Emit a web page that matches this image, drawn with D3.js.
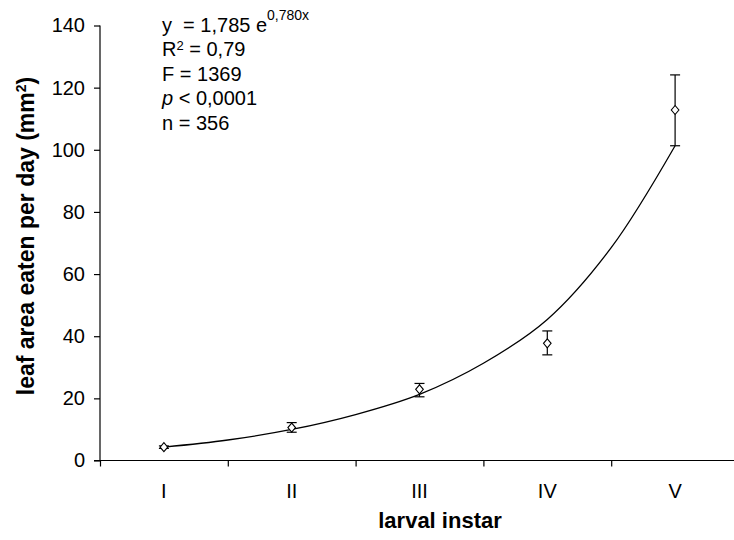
<!DOCTYPE html>
<html>
<head>
<meta charset="utf-8">
<script src="https://cdn.jsdelivr.net/npm/d3@7"></script>
<style>
  html, body { margin: 0; padding: 0; background: #fff; }
  svg { display: block; font-family: "Liberation Sans", Arial, sans-serif; }
  text { white-space: pre; }
</style>
</head>
<body>
<div id="chart"></div>
<script>
// ---- data ----
const instars = ["I", "II", "III", "IV", "V"];
const instarIndex = [1, 2, 3, 4, 5];
const means = [4.3, 10.6, 22.9, 37.7, 112.8];
const errLow = [3.9, 9.1, 20.5, 34.0, 101.3];
const errHigh = [4.7, 12.2, 24.8, 41.7, 124.1];
const trendX = [1, 1.5, 2, 2.5, 3, 3.5, 4, 4.5, 5];
const trendY = [4.3, 6.6, 10.0, 14.8, 21.3, 31.3, 45.4, 68.5, 101.3];
const yTicks = [0, 20, 40, 60, 80, 100, 120, 140];
const xBoundaries = [0.5, 1.5, 2.5, 3.5, 4.5, 5.5];

const W = 734, H = 540;
const svg = d3.select("#chart").append("svg").attr("width", W).attr("height", H);

const x = d3.scaleLinear().domain([0.5, 5.5]).range([100, 739]);
const y = d3.scaleLinear().domain([0, 140]).range([460.5, 25.5]);

// y axis
const yAxis = d3.axisLeft(y).tickValues(yTicks).tickSize(6).tickPadding(9).tickFormat(d3.format("d"));
const gy = svg.append("g").attr("transform", `translate(${x(0.5)},0)`).call(yAxis);
gy.select(".domain").attr("d", `M0,${y(140)}V${y(0)}`).attr("stroke", "#000").attr("stroke-width", 1.2);
gy.selectAll(".tick line").attr("stroke", "#000").attr("stroke-width", 1.2);
gy.selectAll(".tick text").attr("font-size", 20).attr("font-family", "Liberation Sans, Arial, sans-serif").attr("fill", "#000");

// x axis
const xAxis = d3.axisBottom(x).tickValues(xBoundaries).tickSize(6).tickFormat("");
const gx = svg.append("g").attr("transform", `translate(0,${y(0)})`).call(xAxis);
gx.select(".domain").attr("d", `M${x(0.5) - 6},0H${x(5.5)}`).attr("stroke", "#000").attr("stroke-width", 1.2);
gx.selectAll(".tick line").attr("stroke", "#000").attr("stroke-width", 1.2);

// x category labels
svg.append("g").selectAll("text").data(instars).join("text")
  .attr("x", (d, i) => x(instarIndex[i]))
  .attr("y", 498)
  .attr("text-anchor", "middle")
  .attr("font-size", 20)
  .text(d => d);

// axis titles
svg.append("text")
  .attr("x", 440).attr("y", 528)
  .attr("text-anchor", "middle")
  .attr("font-size", 22).attr("font-weight", "bold")
  .text("larval instar");

const yt = svg.append("text")
  .attr("transform", "translate(34,236) rotate(-90)")
  .attr("text-anchor", "middle")
  .attr("font-size", 23).attr("font-weight", "bold");
yt.append("tspan").text("leaf area eaten per day (mm");
yt.append("tspan").attr("font-size", 14).attr("dy", -8).text("2");
yt.append("tspan").attr("dy", 8).text(")");

// trend line
const line = d3.line().x(d => x(d[0])).y(d => y(d[1])).curve(d3.curveCatmullRom.alpha(0.5));
svg.append("path")
  .datum(trendX.map((v, i) => [v, trendY[i]]))
  .attr("d", line)
  .attr("fill", "none").attr("stroke", "#000").attr("stroke-width", 1.3);

// error bars
const eb = svg.append("g");
instarIndex.forEach((xi, i) => {
  const cx = x(xi);
  eb.append("line").attr("x1", cx).attr("x2", cx).attr("y1", y(errLow[i])).attr("y2", y(errHigh[i]))
    .attr("stroke", "#000").attr("stroke-width", 1.2);
  [errLow[i], errHigh[i]].forEach(v => {
    eb.append("line").attr("x1", cx - 5).attr("x2", cx + 5).attr("y1", y(v)).attr("y2", y(v))
      .attr("stroke", "#000").attr("stroke-width", 1.2);
  });
});

// diamond markers
svg.append("g").selectAll("path").data(means).join("path")
  .attr("transform", (d, i) => `translate(${x(instarIndex[i])},${y(d)})`)
  .attr("d", "M0,-4.5L3.8,0L0,4.5L-3.8,0Z")
  .attr("fill", "#fff").attr("stroke", "#000").attr("stroke-width", 1.1);

// annotation block
const ax = 162, base = 31.5, lh = 24.6;
const t1 = svg.append("text").attr("x", ax).attr("y", base).attr("font-size", 20);
t1.append("tspan").text("y  = 1,785 e");
t1.append("tspan").attr("font-size", 14).attr("dy", -11.5).text("0,780x");

const t2 = svg.append("text").attr("x", ax).attr("y", base + lh).attr("font-size", 20);
t2.append("tspan").text("R");
t2.append("tspan").attr("font-size", 13).attr("dy", -6.5).text("2");
t2.append("tspan").attr("dy", 6.5).text(" = 0,79");

svg.append("text").attr("x", ax).attr("y", base + 2 * lh).attr("font-size", 20).text("F = 1369");

const t4 = svg.append("text").attr("x", ax).attr("y", base + 3 * lh).attr("font-size", 20);
t4.append("tspan").attr("font-style", "italic").text("p");
t4.append("tspan").text(" < 0,0001");

svg.append("text").attr("x", ax).attr("y", base + 4 * lh).attr("font-size", 20).text("n = 356");
</script>
</body>
</html>
